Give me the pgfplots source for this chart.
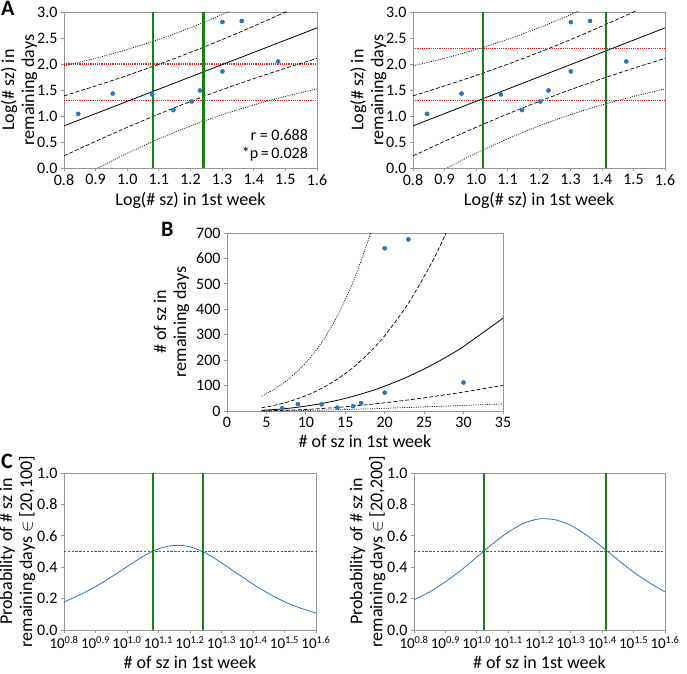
\documentclass[border=0pt]{standalone}
\usepackage{pgfplots}
\pgfplotsset{compat=1.18}
\usepackage{pgfplotstable}
\usepackage{fontspec}
\setmainfont{Carlito}

\definecolor{ptblue}{RGB}{41,118,184}
\definecolor{gline}{RGB}{22,128,22}
\definecolor{rline}{RGB}{235,25,25}
\definecolor{axgray}{RGB}{150,150,150}

% raw data: seizures in 1st week, seizures in remaining days
\pgfplotstableread{
x y
7 11
9 27
12 26
14 13
16 19
17 31
20 640
20 72
23 675
30 112
}\rawdata

% same data on log10 scale
\pgfplotstableread{
lx ly
0.845 1.041
0.954 1.431
1.079 1.415
1.146 1.114
1.204 1.279
1.230 1.491
1.301 2.806
1.301 1.857
1.362 2.829
1.477 2.049
}\logdata

% regression line and bands (log scale)
\pgfplotstableread{
x fit du dl pu pl
0.8 0.810 1.387 0.233 1.963 -0.343
0.9 1.046 1.578 0.513 2.111 -0.020
1.0 1.281 1.780 0.782 2.279 0.283
1.1 1.517 1.995 1.038 2.473 0.560
1.2 1.752 2.224 1.280 2.697 0.808
1.3 1.988 2.469 1.506 2.950 1.025
1.4 2.223 2.728 1.718 3.233 1.213
1.5 2.459 2.999 1.918 3.540 1.377
1.6 2.694 3.281 2.108 3.867 1.521
}\bandA

% probability curves
\pgfplotstableread{
L pa pb
0.80 0.178 0.192
0.85 0.224 0.243
0.90 0.276 0.307
0.95 0.338 0.381
1.00 0.403 0.464
1.05 0.468 0.548
1.10 0.517 0.623
1.15 0.539 0.680
1.20 0.530 0.708
1.25 0.490 0.702
1.30 0.428 0.666
1.35 0.360 0.604
1.40 0.292 0.528
1.45 0.232 0.447
1.50 0.180 0.369
1.55 0.140 0.301
1.60 0.108 0.243
}\probC

\pgfplotsset{
  myax/.style={
    scale only axis,
    axis line style={axgray, line width=0.9pt},
    tick style={axgray, line width=0.8pt},
    tick align=outside,
    major tick length=3pt,
    xtick pos=bottom, ytick pos=left,
    tick label style={font=\fontsize{16}{16}\selectfont},
    label style={font=\fontsize{18}{20}\selectfont, align=center},
    /pgf/number format/assume math mode=true,
    clip=true,
  },
  logAx/.style={myax, width=253pt, height=156pt,
    xmin=0.8, xmax=1.6, ymin=0, ymax=3,
    xtick={0.8,0.9,...,1.61}, ytick={0,0.5,...,3.01},
    xticklabel style={/pgf/number format/.cd, fixed, fixed zerofill, precision=1},
    yticklabel style={/pgf/number format/.cd, fixed, fixed zerofill, precision=1},
    xlabel={Log(\# sz) in 1st week},
    ylabel={Log(\# sz) in\\remaining days},
    ylabel shift=-7pt,
  },
  probAx/.style={myax, width=252pt, height=157pt,
    xmin=0.8, xmax=1.6, ymin=0, ymax=1,
    xtick={0.8,0.9,1.0,1.1,1.2,1.3,1.4,1.5,1.6},
    xticklabels={10\textsuperscript{0.8},10\textsuperscript{0.9},10\textsuperscript{1.0},10\textsuperscript{1.1},10\textsuperscript{1.2},10\textsuperscript{1.3},10\textsuperscript{1.4},10\textsuperscript{1.5},10\textsuperscript{1.6}},
    xticklabel style={font=\fontsize{15}{15}\selectfont},
    ytick={0,0.2,...,1.01},
    yticklabel style={/pgf/number format/.cd, fixed, fixed zerofill, precision=1},
    xlabel={\# of sz in 1st week},
    ylabel shift=-5pt,
  },
  dotl/.style={draw=black, line width=0.7pt, dash pattern=on 1pt off 1.3pt, smooth, mark=none},
  dashl/.style={draw=black, line width=0.7pt, dash pattern=on 4pt off 2pt, smooth, mark=none},
  fitl/.style={draw=black, line width=0.8pt, smooth, mark=none},
  redl/.style={draw=rline, line width=1.2pt, dash pattern=on 1.2pt off 1pt, mark=none, forget plot},
  redc/.style={draw=rline, line width=1.4pt, dash pattern=on 2.4pt off 1.4pt, mark=none, forget plot},
  grnl/.style={draw=gline, line width=2.2pt, mark=none, forget plot},
}

\begin{document}
\begin{tikzpicture}
\useasboundingbox (0,0) rectangle (687pt,673pt);

% ---------- A left ----------
\begin{axis}[logAx, at={(64pt,505pt)}, anchor=south west]
\addplot[redl] coordinates {(0.8,2.0) (1.6,2.0)};
\addplot[redl] coordinates {(0.8,1.301) (1.6,1.301)};
\addplot[dotl] table[x=x, y=pu] {\bandA};
\addplot[dotl] table[x=x, y=pl] {\bandA};
\addplot[dashl] table[x=x, y=du] {\bandA};
\addplot[dashl] table[x=x, y=dl] {\bandA};
\addplot[fitl] table[x=x, y=fit] {\bandA};
\addplot[grnl] coordinates {(1.082,0) (1.082,3)};
\addplot[grnl] coordinates {(1.241,0) (1.241,3)};
\addplot[only marks, mark=*, mark size=2.1pt, draw=ptblue, fill=ptblue] table[x=lx, y=ly] {\logdata};
\node[anchor=south east, align=right, font=\fontsize{16}{18}\selectfont, inner sep=0pt] at (rel axis cs:0.965,0.04) {r = 0.688\\*p\,=\,0.028};
\end{axis}

% ---------- A right ----------
\begin{axis}[logAx, at={(413pt,505pt)}, anchor=south west, width=252pt]
\addplot[redl] coordinates {(0.8,2.301) (1.6,2.301)};
\addplot[redl] coordinates {(0.8,1.301) (1.6,1.301)};
\addplot[dotl] table[x=x, y=pu] {\bandA};
\addplot[dotl] table[x=x, y=pl] {\bandA};
\addplot[dashl] table[x=x, y=du] {\bandA};
\addplot[dashl] table[x=x, y=dl] {\bandA};
\addplot[fitl] table[x=x, y=fit] {\bandA};
\addplot[grnl] coordinates {(1.022,0) (1.022,3)};
\addplot[grnl] coordinates {(1.412,0) (1.412,3)};
\addplot[only marks, mark=*, mark size=2.1pt, draw=ptblue, fill=ptblue] table[x=lx, y=ly] {\logdata};
\end{axis}

% ---------- B ----------
\begin{axis}[myax, at={(227pt,262pt)}, anchor=south west, width=276pt, height=178pt,
  xmin=0, xmax=35, ymin=0, ymax=700,
  xtick={0,5,...,35}, ytick={0,100,...,700},
  xlabel={\# of sz in 1st week},
  ylabel={\# of sz in\\remaining days}]
\addplot[dotl] coordinates {(4.4,58.2) (5,67.9) (6,85.8) (7,106.5) (8,130.4) (10,190.1) (12,269.5) (14,373.8) (16,508.8) (18,681.4) (20,897.3)};
\addplot[dashl] coordinates {(4.4,12.69) (5,15.92) (6,22.19) (7,29.63) (8,38.38) (10,60.26) (12,88.92) (14,125.6) (16,171.4) (18,228.0) (20,296.0) (23,423.7) (26,585.7) (28,715.1) (30,863)};
\addplot[fitl] coordinates {(4.4,2.76) (5,3.73) (6,5.74) (7,8.25) (8,11.29) (10,19.10) (12,29.34) (14,42.18) (16,57.77) (18,76.25) (20,97.70) (23,135.8) (26,181.3) (28,215.9) (30,253.9) (35,365.1)};
\addplot[dashl] coordinates {(4.4,0.60) (5,0.88) (6,1.48) (7,2.29) (8,3.32) (10,6.05) (12,9.68) (14,14.17) (16,19.47) (18,25.50) (20,32.24) (23,43.51) (26,56.09) (28,65.16) (30,74.68) (35,100.6)};
\addplot[dotl] coordinates {(4.4,0.13) (5,0.21) (6,0.38) (7,0.64) (8,0.98) (10,1.92) (12,3.20) (14,4.76) (16,6.56) (18,8.53) (20,10.64) (23,13.94) (26,17.36) (28,19.67) (30,21.97) (35,27.73)};
\addplot[only marks, mark=*, mark size=2.1pt, draw=ptblue, fill=ptblue] table[x=x, y=y] {\rawdata};
\end{axis}

% ---------- C left ----------
\begin{axis}[probAx, at={(64pt,43pt)}, anchor=south west,
  ylabel={Probability of \# sz in\\remaining days $\in$ [20,100]}]
\addplot[redc] coordinates {(0.8,0.5) (1.6,0.5)};
\addplot[draw=ptblue, line width=0.8pt, smooth, mark=none] table[x=L, y=pa] {\probC};
\addplot[grnl] coordinates {(1.082,0) (1.082,1)};
\addplot[grnl] coordinates {(1.241,0) (1.241,1)};
\end{axis}

% ---------- C right ----------
\begin{axis}[probAx, at={(414pt,43pt)}, anchor=south west, width=251pt,
  ylabel={Probability of \# sz in\\remaining days $\in$ [20,200]}]
\addplot[redc] coordinates {(0.8,0.5) (1.6,0.5)};
\addplot[draw=ptblue, line width=0.8pt, smooth, mark=none] table[x=L, y=pb] {\probC};
\addplot[grnl] coordinates {(1.022,0) (1.022,1)};
\addplot[grnl] coordinates {(1.412,0) (1.412,1)};
\end{axis}

% panel letters
\node[anchor=north west, inner sep=0pt, font=\bfseries\fontsize{22}{22}\selectfont] at (1pt,672pt) {A};
\node[anchor=north west, inner sep=0pt, font=\bfseries\fontsize{22}{22}\selectfont] at (161pt,451pt) {B};
\node[anchor=north west, inner sep=0pt, font=\bfseries\fontsize{22}{22}\selectfont] at (1pt,219pt) {C};
\end{tikzpicture}
\end{document}
